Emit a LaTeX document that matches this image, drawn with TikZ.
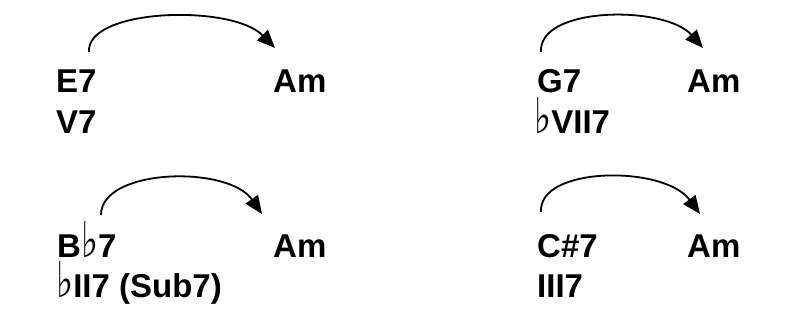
\documentclass[tikz,border=0pt]{standalone}
\usepackage{fontspec}
\usepackage{graphicx}
\setmainfont{Liberation Sans}
\newfontfamily\symfont{DejaVu Sans}
\usetikzlibrary{arrows.meta}
\newcommand{\flt}{\scalebox{1.1}[1.5]{\symfont\mdseries\char"266D}}
\tikzset{
  chord/.style={inner sep=0pt, anchor=base west, font=\fontsize{33}{36}\selectfont\bfseries},
  resolve/.style={line width=1.8pt, -{Triangle[length=18pt,width=15pt]}}
}
\begin{document}
\begin{tikzpicture}[x=1pt,y=-1pt]
\useasboundingbox (0,0) rectangle (788,322);
% top left
\node[chord] (e7) at (56,92) {E7};
\node[chord] (v7) at (56,133) {V7};
\node[chord] (am1) at (273,92) {Am};
\coordinate (s1) at (89,52);
\coordinate (t1) at (275,48);
\draw[resolve] (s1) .. controls (86,8) and (232,4) .. (t1);
% top right
\node[chord] (g7) at (537,92) {G7};
\node[chord] (bvii7) at (534,133) {\flt VII7};
\node[chord] (am2) at (687,92) {Am};
\coordinate (s2) at (541,52);
\coordinate (t2) at (703,48);
\draw[resolve] (s2) .. controls (538,6) and (665,5) .. (t2);
% bottom left
\node[chord] (bb7) at (57,257) {B\flt 7};
\node[chord] (bii7) at (56,297) {\flt II7 (Sub7)};
\node[chord] (am3) at (273,257) {Am};
\coordinate (s3) at (101,215);
\coordinate (t3) at (262,214);
\draw[resolve] (s3) .. controls (101,168) and (228,165) .. (t3);
% bottom right
\node[chord] (cs7) at (537,257) {C\#7};
\node[chord] (iii7) at (537,297) {III7};
\node[chord] (am4) at (687,257) {Am};
\coordinate (s4) at (541,212);
\coordinate (t4) at (700,214);
\draw[resolve] (s4) .. controls (538,166) and (664,165) .. (t4);
\end{tikzpicture}
\end{document}
